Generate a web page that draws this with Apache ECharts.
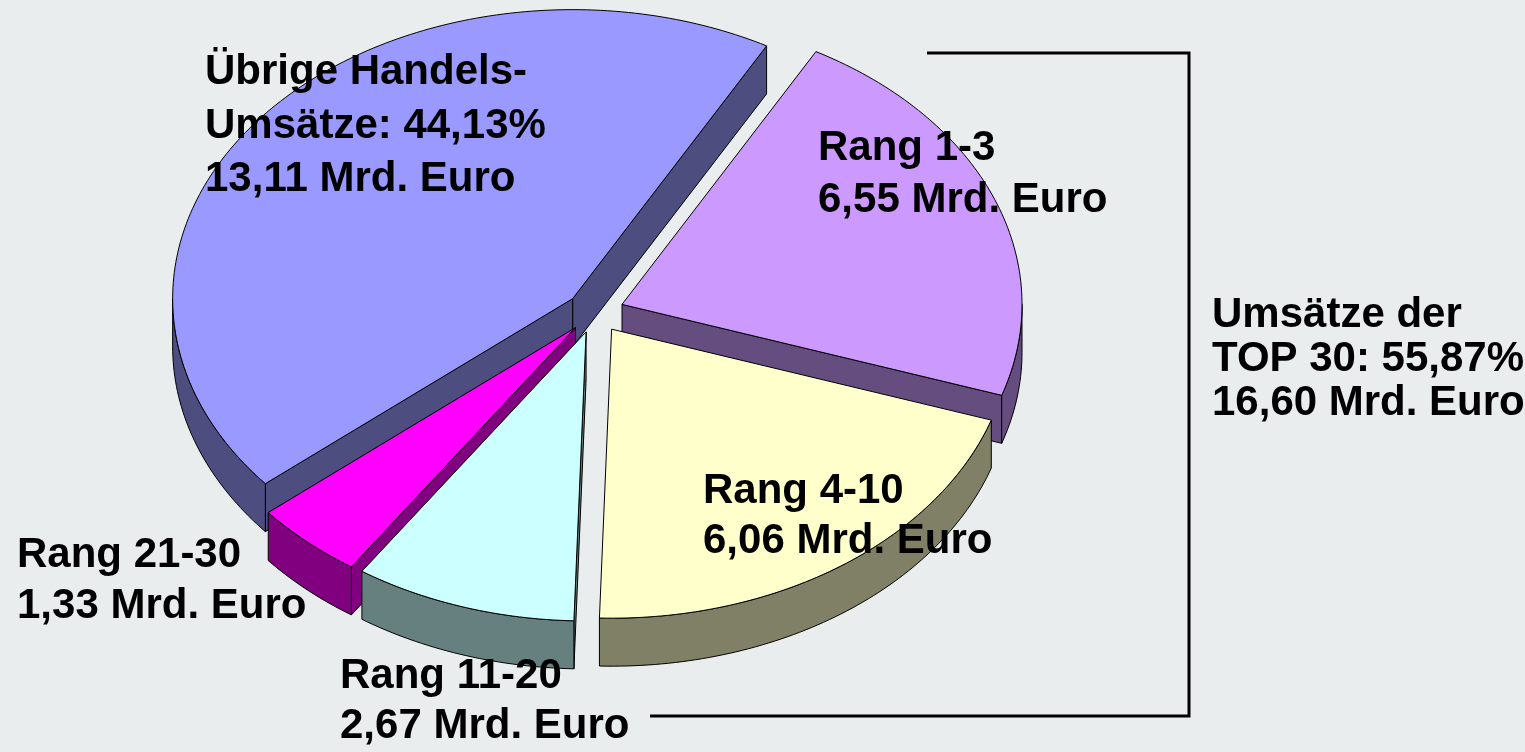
<!DOCTYPE html>
<html>
<head>
<meta charset="utf-8">
<script src="https://cdn.jsdelivr.net/npm/echarts@6/dist/echarts.min.js"></script>
<style>
html, body { margin: 0; padding: 0; background: #e9edee; }
#main { width: 1525px; height: 752px; }
</style>
</head>
<body>
<div id="main"></div>
<script>
// Umsätze in Mrd. Euro, im Uhrzeigersinn ab oben rechts
var categories = ['Rang 1-3', 'Rang 4-10', 'Rang 11-20', 'Rang 21-30', 'Übrige Handels-\nUmsätze'];
var umsatz = [6.55, 6.06, 2.67, 1.33, 13.11];
var anteilTop30 = 55.87;   // %
var anteilUebrige = 44.13; // %
var summeTop30 = 16.60;

var topColors = ['#cc99ff', '#ffffcc', '#ccffff', '#ff00ff', '#9999ff'];
var sideColors = ['#664d80', '#808066', '#668080', '#800080', '#4d4d80'];

// Geometrie der 3D-Torte
var cx = 595, cy = 312, rx = 400, ry = 289, depth = 48, explode = 29, startDeg = 29;
var total = umsatz.reduce(function (a, b) { return a + b; }, 0);
var RAD = Math.PI / 180;

function fmt(v) { return v.toFixed(2).replace('.', ','); }

function pt(deg, r, ox, oy) {
    return [cx + ox + rx * r * Math.sin(deg * RAD), cy + oy - ry * r * Math.cos(deg * RAD)];
}
function down(p) { return [p[0], p[1] + depth]; }
function arc(a, b, ox, oy) {
    var pts = [], n = Math.max(2, Math.ceil((b - a) / 1));
    for (var k = 0; k <= n; k++) pts.push(pt(a + (b - a) * k / n, 1, ox, oy));
    return pts;
}

function renderSlice(params, api) {
    var i = params.dataIndex;
    var before = 0;
    for (var k = 0; k < i; k++) before += umsatz[k];
    var a1 = startDeg + before / total * 360;
    var a2 = a1 + api.value(0) / total * 360;
    var mid = (a1 + a2) / 2 * RAD;
    var ox = explode * Math.sin(mid), oy = -explode * ry / rx * Math.cos(mid);
    var c = pt(0, 0, ox, oy);
    var children = [];

    function face(pts, fill, z2) {
        children.push({
            type: 'polygon', z2: z2, shape: { points: pts },
            style: { fill: fill, stroke: '#000', lineWidth: 1, lineJoin: 'round' }
        });
    }

    // Schnittflächen
    var p1 = pt(a1, 1, ox, oy), p2 = pt(a2, 1, ox, oy);
    if (Math.sin(a1 * RAD) < 0) face([c, p1, down(p1), down(c)], sideColors[i], Math.round((c[1] + p1[1]) / 2));
    if (Math.sin(a2 * RAD) > 0) face([c, p2, down(p2), down(c)], sideColors[i], Math.round((c[1] + p2[1]) / 2));

    // Außenwand, nur vorne sichtbar
    var lo = Math.max(a1, 90), hi = Math.min(a2, 270);
    if (lo < hi) {
        var top = arc(lo, hi, ox, oy);
        var bottom = top.map(down).reverse();
        var key = top.reduce(function (s, p) { return s + p[1]; }, 0) / top.length;
        face(top.concat(bottom), sideColors[i], Math.round(key));
    }

    // Deckfläche
    face([c].concat(arc(a1, a2, ox, oy)), topColors[i], 5000);

    return { type: 'group', children: children };
}

var labelFont = 'bold 42px "Liberation Sans", Arial, sans-serif';
var labelPos = [[818, 122, 52], [703, 466, 50], [340, 651, 50], [17, 530, 51], [205, 46, 53.5]];

var graphics = categories.map(function (name, i) {
    var txt = i === 4
        ? 'Übrige Handels-\nUmsätze: ' + fmt(anteilUebrige) + '%\n' + fmt(umsatz[i]) + ' Mrd. Euro'
        : name + '\n' + fmt(umsatz[i]) + ' Mrd. Euro';
    return {
        type: 'text', x: labelPos[i][0], y: labelPos[i][1], z: 10,
        style: { text: txt, font: labelFont, fill: '#000', lineHeight: labelPos[i][2], verticalAlign: 'top' }
    };
});
graphics.push({
    type: 'text', x: 1212, y: 293, z: 10,
    style: {
        text: 'Umsätze der\nTOP 30: ' + fmt(anteilTop30) + '%\n' + fmt(summeTop30) + ' Mrd. Euro',
        font: labelFont, fill: '#000', lineHeight: 44, verticalAlign: 'top'
    }
});
// Klammer um die TOP 30
graphics.push({
    type: 'polyline', z: 10,
    shape: { points: [[927, 53], [1189, 53], [1189, 716], [650, 716]] },
    style: { stroke: '#000', lineWidth: 3, fill: null }
});

var myChart = echarts.init(document.getElementById('main'));
myChart.setOption({
    backgroundColor: '#e9edee',
    animation: false,
    graphic: graphics,
    series: [{
        type: 'custom',
        coordinateSystem: 'none',
        renderItem: renderSlice,
        data: umsatz.map(function (v) { return [v]; })
    }]
});
</script>
</body>
</html>
